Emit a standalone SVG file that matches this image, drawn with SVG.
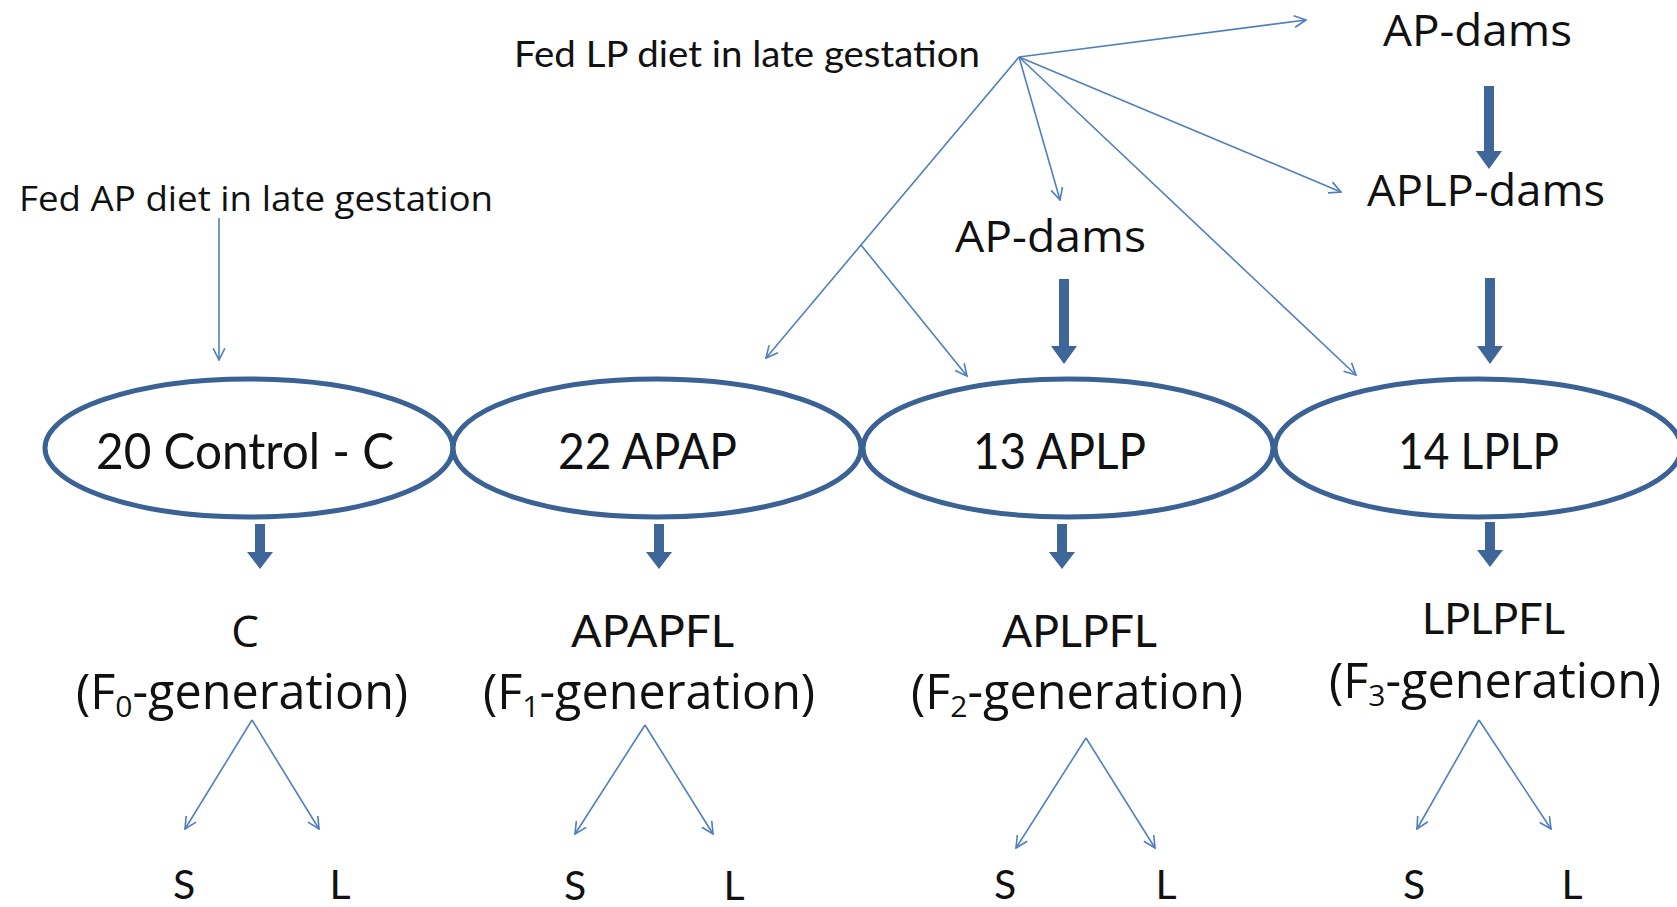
<svg xmlns="http://www.w3.org/2000/svg" width="1677" height="907" viewBox="0 0 1677 907">
<style>
.os{font-family:"Open Sans","DejaVu Sans",sans-serif;fill:#111;}
.lt{font-family:Lato,"Liberation Sans",sans-serif;fill:#111;}
.ell{fill:#fff;stroke:#3b6294;stroke-width:5;}
.thin{fill:none;stroke:#4f7fbd;stroke-width:1.6;marker-end:url(#open);}
.block{fill:#3e6698;}
.gen{font-size:48.5px;}
.sl{font-size:41px;}
</style>
<defs>
<marker id="open" viewBox="0 0 12 12" refX="11" refY="6" markerWidth="14" markerHeight="14" markerUnits="userSpaceOnUse" orient="auto">
<path d="M1,1 L11,6 L1,11" fill="none" stroke="#4f7fbd" stroke-width="1.4"/>
</marker>
</defs>
<rect width="1677" height="907" fill="#fff"/>

<g id="connectors">
<line class="thin" x1="219" y1="218" x2="219" y2="360"/>
<line class="thin" x1="1019" y1="57" x2="1306" y2="20"/>
<line class="thin" x1="1019" y1="57" x2="766" y2="358"/>
<line class="thin" x1="861" y1="245" x2="967" y2="376"/>
<line class="thin" x1="1019" y1="57" x2="1060" y2="200"/>
<line class="thin" x1="1019" y1="57" x2="1356" y2="375"/>
<line class="thin" x1="1019" y1="57" x2="1341" y2="192"/>

<polygon class="block" points="1484,86 1494,86 1494,151 1502,151 1489,169 1476,151 1484,151"/>
<polygon class="block" points="1485,278 1495,278 1495,346 1503,346 1490,364 1477,346 1485,346"/>
<polygon class="block" points="1059,279 1069,279 1069,346 1077,346 1064,364 1051,346 1059,346"/>

<polygon class="block" points="255,524 265,524 265,552 273,552 260,569 247,552 255,552"/>
<polygon class="block" points="654,524 664,524 664,552 672,552 659,569 646,552 654,552"/>
<polygon class="block" points="1057,524 1067,524 1067,552 1075,552 1062,569 1049,552 1057,552"/>
<polygon class="block" points="1485,522 1495,522 1495,550 1503,550 1490,567 1477,550 1485,550"/>

<line class="thin" x1="252" y1="720" x2="185" y2="829"/>
<line class="thin" x1="252" y1="720" x2="319" y2="829"/>
<line class="thin" x1="645" y1="725" x2="575" y2="834"/>
<line class="thin" x1="645" y1="725" x2="713" y2="834"/>
<line class="thin" x1="1086" y1="738" x2="1016" y2="848"/>
<line class="thin" x1="1086" y1="738" x2="1155" y2="848"/>
<line class="thin" x1="1479" y1="720" x2="1417" y2="829"/>
<line class="thin" x1="1479" y1="720" x2="1551" y2="829"/>
</g>

<g id="label-fed-ap"><text class="os" x="19" y="211" font-size="34" textLength="474" lengthAdjust="spacingAndGlyphs">Fed AP diet in late gestation</text></g>
<g id="label-fed-lp"><text class="lt" x="514" y="67" font-size="37" textLength="466" lengthAdjust="spacingAndGlyphs">Fed LP diet in late gestation</text></g>
<g id="ap-dams-top"><text class="os" x="1383" y="46" font-size="44" textLength="189" lengthAdjust="spacingAndGlyphs">AP-dams</text></g>
<g id="aplp-dams"><text class="os" x="1367" y="206" font-size="44" textLength="238" lengthAdjust="spacingAndGlyphs">APLP-dams</text></g>
<g id="ap-dams-mid"><text class="os" x="955" y="252" font-size="44" textLength="191" lengthAdjust="spacingAndGlyphs">AP-dams</text></g>

<g id="node-control"><ellipse class="ell" cx="249" cy="448" rx="204" ry="69"/><text class="lt" x="96" y="469" font-size="50" textLength="298" lengthAdjust="spacingAndGlyphs">20 Control - C</text></g>
<g id="node-apap"><ellipse class="ell" cx="657" cy="448" rx="204" ry="69"/><text class="lt" x="558" y="469" font-size="50" textLength="179" lengthAdjust="spacingAndGlyphs">22 APAP</text></g>
<g id="node-aplp"><ellipse class="ell" cx="1068" cy="448" rx="205" ry="69"/><text class="lt" x="973" y="469" font-size="50" textLength="173" lengthAdjust="spacingAndGlyphs">13 APLP</text></g>
<g id="node-lplp"><ellipse class="ell" cx="1478" cy="448" rx="203" ry="69"/><text class="lt" x="1398" y="469" font-size="50" textLength="161" lengthAdjust="spacingAndGlyphs">14 LPLP</text></g>

<g id="gen-f0">
<text class="os" x="245" y="647" font-size="44" text-anchor="middle">C</text>
<text class="os gen" x="76" y="709">(F<tspan font-size="30" dy="8">0</tspan><tspan dy="-8">-generation)</tspan></text>
<text class="lt sl" x="184" y="899" text-anchor="middle">S</text>
<text class="lt sl" x="340" y="899" text-anchor="middle">L</text>
</g>
<g id="gen-f1">
<text class="lt" x="571" y="647" font-size="44" textLength="163" lengthAdjust="spacingAndGlyphs">APAPFL</text>
<text class="os gen" x="483" y="709">(F<tspan font-size="30" dy="8">1</tspan><tspan dy="-8">-generation)</tspan></text>
<text class="lt sl" x="575" y="900" text-anchor="middle">S</text>
<text class="lt sl" x="734" y="900" text-anchor="middle">L</text>
</g>
<g id="gen-f2">
<text class="lt" x="1002" y="647" font-size="44" textLength="155" lengthAdjust="spacingAndGlyphs">APLPFL</text>
<text class="os gen" x="911" y="709">(F<tspan font-size="30" dy="8">2</tspan><tspan dy="-8">-generation)</tspan></text>
<text class="lt sl" x="1005" y="899" text-anchor="middle">S</text>
<text class="lt sl" x="1166" y="899" text-anchor="middle">L</text>
</g>
<g id="gen-f3">
<text class="lt" x="1422" y="634" font-size="42" textLength="143" lengthAdjust="spacingAndGlyphs">LPLPFL</text>
<text class="os gen" x="1329" y="698">(F<tspan font-size="30" dy="8">3</tspan><tspan dy="-8">-generation)</tspan></text>
<text class="lt sl" x="1414" y="899" text-anchor="middle">S</text>
<text class="lt sl" x="1572" y="899" text-anchor="middle">L</text>
</g>
</svg>
